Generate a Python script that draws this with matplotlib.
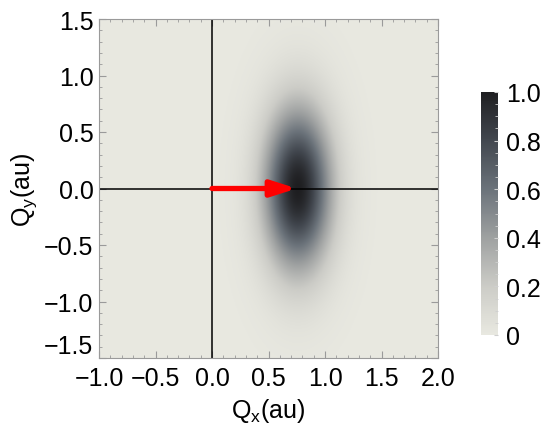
import numpy as np
import matplotlib
matplotlib.use('Agg')
import matplotlib.pyplot as plt
from matplotlib.colors import LinearSegmentedColormap
from matplotlib.ticker import MultipleLocator

plt.rcParams['font.family'] = ['Liberation Sans', 'DejaVu Sans']
plt.rcParams['mathtext.default'] = 'regular'

# blob parameters
center = (0.76, 0.0)
sigma = (0.21, 0.5)
arrow_start = (0.0, 0.0)
arrow_end = (0.75, 0.0)
xlim = (-1.0, 2.0)
ylim = (-1.5, 1.5)
xticks = [-1.0, -0.5, 0.0, 0.5, 1.0, 1.5, 2.0]
yticks = [-1.5, -1.0, -0.5, 0.0, 0.5, 1.0, 1.5]
cb_ticks = [0, 0.2, 0.4, 0.6, 0.8, 1.0]
cb_labels = ['0', '0.2', '0.4', '0.6', '0.8', '1.0']

cmap = LinearSegmentedColormap.from_list('graytones', [
    (0.0, (0.91, 0.91, 0.88)),
    (0.2, (0.80, 0.80, 0.78)),
    (0.4, (0.62, 0.63, 0.63)),
    (0.6, (0.42, 0.45, 0.48)),
    (0.8, (0.26, 0.28, 0.31)),
    (1.0, (0.12, 0.12, 0.13)),
])

x = np.linspace(xlim[0], xlim[1], 600)
y = np.linspace(ylim[0], ylim[1], 600)
X, Y = np.meshgrid(x, y)
Z = np.exp(-((X - center[0])**2 / (2 * sigma[0]**2) + (Y - center[1])**2 / (2 * sigma[1]**2)))

fig = plt.figure(figsize=(5.5, 4.39), dpi=100)
ax = fig.add_axes([99/550, 1 - 359/439, 339/550, 339/439])
im = ax.imshow(Z, extent=[xlim[0], xlim[1], ylim[0], ylim[1]], origin='lower',
               cmap=cmap, vmin=0, vmax=1, aspect='auto', interpolation='bilinear')

ax.axhline(0, color='black', lw=1.1)
ax.axvline(0, color='black', lw=1.1)

ax.annotate('', xy=arrow_end, xytext=arrow_start,
            arrowprops=dict(arrowstyle='-|>,head_length=1.5,head_width=0.48',
                            color='red', lw=3.8, shrinkA=0, shrinkB=0))

ax.set_xlim(xlim)
ax.set_ylim(ylim)
ax.set_xticks(xticks)
ax.set_yticks(yticks)
ax.set_xticklabels(['\u22121.0', '\u22120.5', '0.0', '0.5', '1.0', '1.5', '2.0'])
ax.set_yticklabels(['\u22121.5', '\u22121.0', '\u22120.5', '0.0', '0.5', '1.0', '1.5'])
# lift the lowest y label so it clears the -1.0 x label
ax.get_yticklabels()[0].set_va('bottom')
ax.xaxis.set_minor_locator(MultipleLocator(0.1))
ax.yaxis.set_minor_locator(MultipleLocator(0.1))
ax.tick_params(which='both', direction='in', color='#9a9a9a', labelsize=18)
ax.tick_params(axis='x', pad=6)
ax.tick_params(axis='y', pad=4)
ax.tick_params(which='major', length=5)
ax.tick_params(which='minor', length=2.5)
ax.tick_params(top=True, right=True, which='both')
for s in ax.spines.values():
    s.set_color('#9a9a9a')
    s.set_linewidth(0.8)

ax.set_xlabel('Q$_x$(au)', fontsize=18, labelpad=4)
ax.set_ylabel('Q$_y$(au)', fontsize=18, labelpad=4)

cax = fig.add_axes([481/550, 1 - 336/439, 17/550, 243/439])
cb = fig.colorbar(im, cax=cax, ticks=cb_ticks)
cb.ax.set_yticklabels(cb_labels)
cb.ax.yaxis.set_minor_locator(MultipleLocator(0.05))
cb.ax.tick_params(labelsize=18, length=3, color='#cfcfcf', direction='in', pad=6)
cb.ax.tick_params(which='minor', length=2, color='#cfcfcf', direction='in')
cb.outline.set_visible(False)

fig.savefig('out.png', dpi=100)
